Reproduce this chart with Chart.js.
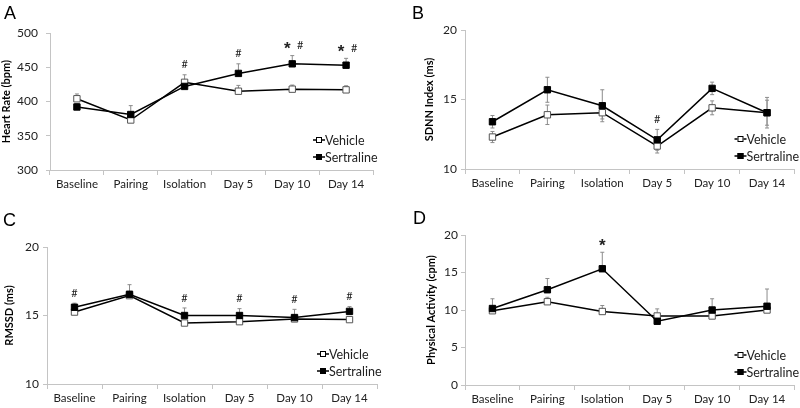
<!DOCTYPE html>
<html>
<head>
<meta charset="utf-8">
<script src="https://cdn.jsdelivr.net/npm/chart.js@4.4.1/dist/chart.umd.min.js"></script>
<style>
  html, body { margin: 0; padding: 0; background: #fff; }
  #wrap { position: relative; width: 800px; height: 408px; }
  #wrap canvas { position: absolute; }
</style>
</head>
<body>
<div id="wrap">
  <canvas id="chartA" width="400" height="204" style="left:0;top:0"></canvas>
  <canvas id="chartB" width="400" height="204" style="left:400px;top:0"></canvas>
  <canvas id="chartC" width="400" height="204" style="left:0;top:204px"></canvas>
  <canvas id="chartD" width="400" height="204" style="left:400px;top:204px"></canvas>
</div>
<script>
const categories = ["Baseline", "Pairing", "Isolation", "Day 5", "Day 10", "Day 14"];
const seriesNames = ["Vehicle", "Sertraline"];

// A - heart rate (bpm)
const hrVehicle = [404, 373, 428, 415, 418, 417];
const hrVehicleErr = [7, 5, 11, 8.5, 6, 6];
const hrSertraline = [392, 381, 422, 441, 455, 453];
const hrSertralineErr = [5, 13, 5, 14, 12, 10];
const hrMarks = ["", "", "#", "#", "* #", "* #"];
const hrTicks = [300, 350, 400, 450, 500];

// B - SDNN index (ms)
const sdnnVehicle = [12.3, 13.9, 14.05, 11.65, 14.4, 14.05];
const sdnnVehicleErr = [0.4, 0.7, 0.45, 0.5, 0.5, 0.9];
const sdnnSertraline = [13.4, 15.7, 14.55, 12.1, 15.8, 14.05];
const sdnnSertralineErr = [0.45, 0.9, 1.15, 0.75, 0.45, 1.1];
const sdnnMarks = ["", "", "", "#", "", ""];
const sdnnTicks = [10, 15, 20];

// C - RMSSD (ms)
const rmssdVehicle = [15.25, 16.45, 14.45, 14.55, 14.75, 14.7];
const rmssdVehicleErr = [0.2, 0.3, 0.2, 0.2, 0.2, 0.2];
const rmssdSertraline = [15.6, 16.55, 15.0, 15.0, 14.85, 15.3];
const rmssdSertralineErr = [0.3, 0.7, 0.55, 0.5, 0.6, 0.35];
const rmssdMarks = ["#", "", "#", "#", "#", "#"];
const rmssdTicks = [10, 15, 20];

// D - physical activity (cpm)
const actVehicle = [9.9, 11.1, 9.8, 9.2, 9.2, 10.0];
const actVehicleErr = [0.5, 0.6, 0.8, 0.95, 0.5, 0.5];
const actSertraline = [10.2, 12.7, 15.5, 8.5, 10.0, 10.5];
const actSertralineErr = [1.3, 1.5, 2.2, 0.5, 1.5, 2.3];
const actMarks = ["", "", "*", "", "", ""];
const actTicks = [0, 5, 10, 15, 20];

const FONT = "Lato, 'Liberation Sans', sans-serif";
const AXIS_GRAY = "#c4c4c4";
const TEXT = "#222";

// draws one significance symbol; the asterisk is larger and sits high in its box
function drawSymbol(ctx, s, x, y) {
  if (s === "*") {
    ctx.font = "bold 17px 'Liberation Sans', Arial, sans-serif";
    ctx.fillText(s, x, y + 4);
  } else {
    ctx.font = "11px " + FONT;
    ctx.fillText(s, x, y);
  }
}

// extra drawing: error bars, significance marks, legend, panel letter
function panelPlugin(p) {
  return {
    id: "panelExtras",
    beforeDatasetsDraw(chart) {
      const ctx = chart.ctx;
      const y = chart.scales.y;
      ctx.save();
      ctx.strokeStyle = "#8c8c8c";
      ctx.lineWidth = 1;
      chart.data.datasets.forEach((ds, di) => {
        const meta = chart.getDatasetMeta(di);
        ds.errors.forEach((e, i) => {
          const x = meta.data[i].x;
          const top = y.getPixelForValue(ds.data[i] + e);
          const bot = p.bothWays ? y.getPixelForValue(ds.data[i] - e) : y.getPixelForValue(ds.data[i]);
          ctx.beginPath();
          ctx.moveTo(x, top); ctx.lineTo(x, bot);
          ctx.moveTo(x - 2, top); ctx.lineTo(x + 2, top);
          if (p.bothWays) { ctx.moveTo(x - 2, bot); ctx.lineTo(x + 2, bot); }
          ctx.stroke();
        });
      });
      ctx.restore();
    },
    afterDraw(chart) {
      const ctx = chart.ctx;
      const area = chart.chartArea;
      const y = chart.scales.y;
      const ds = chart.data.datasets;
      ctx.save();
      // significance marks
      ctx.fillStyle = TEXT;
      ctx.textAlign = "center";
      ctx.textBaseline = "middle";
      p.marks.forEach((m, i) => {
        if (!m) return;
        const top = Math.max(...ds.map(d => d.data[i] + d.errors[i]));
        const x = chart.getDatasetMeta(0).data[i].x;
        const my = y.getPixelForValue(top) - 10;
        const parts = m.split(" ");
        if (parts.length === 1) {
          drawSymbol(ctx, parts[0], x, my);
        } else {
          drawSymbol(ctx, parts[0], x - 5, my);
          drawSymbol(ctx, parts[1], x + 8, my);
        }
      });
      // legend
      ctx.textAlign = "left";
      ctx.font = "12.5px " + FONT;
      seriesNames.forEach((name, k) => {
        const lx = area.right - 60;
        const ly = area.bottom - 30 + k * 17;
        ctx.strokeStyle = "#000";
        ctx.lineWidth = 1.5;
        ctx.beginPath();
        ctx.moveTo(lx, ly); ctx.lineTo(lx + 12, ly);
        ctx.stroke();
        ctx.fillStyle = k === 0 ? "#fff" : "#000";
        ctx.lineWidth = 1;
        ctx.fillRect(lx + 3, ly - 3, 6, 6);
        ctx.strokeRect(lx + 3.5, ly - 2.5, 5, 5);
        ctx.fillStyle = TEXT;
        ctx.fillText(name, lx + 12, ly + 1);
      });
      // panel letter
      ctx.fillStyle = "#000";
      ctx.font = "18px 'Liberation Sans', Arial, sans-serif";
      ctx.textBaseline = "top";
      ctx.fillText(p.letter, p.letterX, p.letterY);
      ctx.restore();
    }
  };
}

function makePanel(id, p) {
  const ticks = p.ticks;
  new Chart(document.getElementById(id), {
    type: "line",
    data: {
      labels: categories,
      datasets: [
        {
          label: seriesNames[0],
          data: p.vehicle,
          errors: p.vehicleErr,
          borderColor: "#000",
          borderWidth: 1.5,
          pointStyle: "rect",
          pointRadius: 4.5,
          pointBackgroundColor: "#fff",
          pointBorderColor: "#555",
          pointBorderWidth: 1,
          order: 1,
        },
        {
          label: seriesNames[1],
          data: p.sertraline,
          errors: p.sertralineErr,
          borderColor: "#000",
          borderWidth: 1.5,
          pointStyle: "rect",
          pointRadius: 4.5,
          pointBackgroundColor: "#000",
          pointBorderColor: "#000",
          pointBorderWidth: 1,
          order: 0,
        },
      ],
    },
    options: {
      responsive: false,
      animation: false,
      layout: { padding: { top: p.top, right: p.right, left: 0, bottom: 0 } },
      plugins: { legend: { display: false }, tooltip: { enabled: false } },
      scales: {
        x: {
          offset: true,
          afterFit: (s) => { s.height = p.xHeight; },
          grid: { offset: true, drawOnChartArea: false, tickLength: 5, color: AXIS_GRAY },
          border: { color: AXIS_GRAY },
          ticks: { color: TEXT, font: { family: FONT, size: 11.5 }, padding: 2, maxRotation: 0 },
        },
        y: {
          min: ticks[0],
          max: ticks[ticks.length - 1],
          afterFit: (s) => { s.width = p.yWidth; },
          afterBuildTicks: (s) => { s.ticks = ticks.map(v => ({ value: v })); },
          grid: { drawOnChartArea: false, tickLength: 4, color: AXIS_GRAY },
          border: { color: AXIS_GRAY },
          ticks: { color: TEXT, font: { family: FONT, size: 12 }, padding: p.tickPad },
          title: {
            display: true,
            text: p.title,
            color: "#000",
            font: { family: FONT, size: 11, weight: "bold" },
            padding: { top: p.titlePad, bottom: 0 },
          },
        },
      },
    },
    plugins: [panelPlugin(p)],
  });
}

makePanel("chartA", {
  letter: "A", letterX: 4, letterY: 5,
  title: "Heart Rate (bpm)",
  vehicle: hrVehicle, vehicleErr: hrVehicleErr,
  sertraline: hrSertraline, sertralineErr: hrSertralineErr,
  marks: hrMarks, ticks: hrTicks, bothWays: false,
  top: 33, right: 27, yWidth: 50, xHeight: 34, tickPad: 8, titlePad: 0,
});
makePanel("chartB", {
  letter: "B", letterX: 12, letterY: 5,
  title: "SDNN Index (ms)",
  vehicle: sdnnVehicle, vehicleErr: sdnnVehicleErr,
  sertraline: sdnnSertraline, sertralineErr: sdnnSertralineErr,
  marks: sdnnMarks, ticks: sdnnTicks, bothWays: true,
  top: 30, right: 3, yWidth: 65, xHeight: 35, tickPad: 4, titlePad: 23,
});
makePanel("chartC", {
  letter: "C", letterX: 3, letterY: 8,
  title: "RMSSD (ms)",
  vehicle: rmssdVehicle, vehicleErr: rmssdVehicleErr,
  sertraline: rmssdSertraline, sertralineErr: rmssdSertralineErr,
  marks: rmssdMarks, ticks: rmssdTicks, bothWays: false,
  top: 43, right: 23, yWidth: 47, xHeight: 24, tickPad: 4, titlePad: 3,
});
makePanel("chartD", {
  letter: "D", letterX: 13, letterY: 6,
  title: "Physical Activity (cpm)",
  vehicle: actVehicle, vehicleErr: actVehicleErr,
  sertraline: actSertraline, sertralineErr: actSertralineErr,
  marks: actMarks, ticks: actTicks, bothWays: false,
  top: 31, right: 3, yWidth: 65, xHeight: 23, tickPad: 3, titlePad: 25,
});
</script>
</body>
</html>
